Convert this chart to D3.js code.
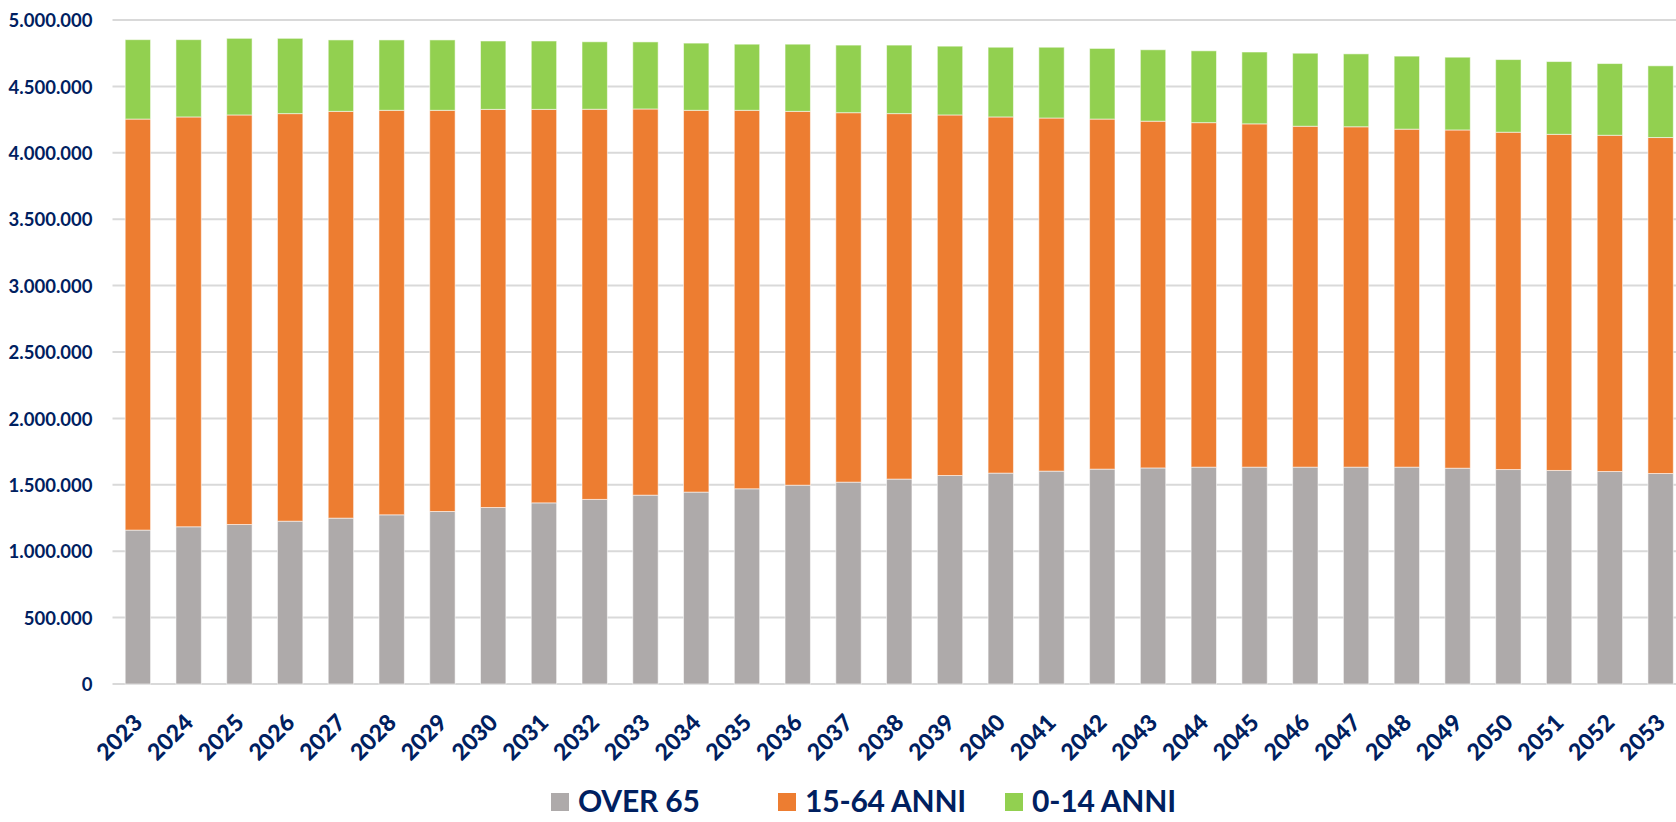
<!DOCTYPE html>
<html>
<head>
<meta charset="utf-8">
<script src="https://cdn.jsdelivr.net/npm/d3@7"></script>
<style>
  html, body { margin: 0; padding: 0; background: #fff; }
  svg { display: block; }
  text { font-family: Lato, 'Liberation Sans', sans-serif; font-weight: 700; fill: #002060; }
</style>
</head>
<body>
<div id="chart"></div>
<script>
// anni di proiezione
const years = [
  '2023', '2024', '2025', '2026', '2027', '2028', '2029', '2030', '2031', '2032',
  '2033', '2034', '2035', '2036', '2037', '2038', '2039', '2040', '2041', '2042',
  '2043', '2044', '2045', '2046', '2047', '2048', '2049', '2050', '2051', '2052', '2053',
];

const over65 = [
  1159000, 1184000, 1201000, 1226000, 1249000, 1274000, 1299000, 1329000, 1364000, 1390000,
  1422000, 1445000, 1470000, 1497000, 1520000, 1543000, 1570000, 1588000, 1603000, 1618000,
  1627000, 1633000, 1633000, 1633000, 1633000, 1633000, 1625000, 1615000, 1608000, 1600000, 1585000,
];

const anni15_64 = [
  3095000, 3086000, 3084000, 3069000, 3063000, 3046000, 3021000, 2998000, 2963000, 2938000,
  2908000, 2875000, 2850000, 2815000, 2782000, 2752000, 2715000, 2682000, 2659000, 2636000,
  2611000, 2594000, 2585000, 2567000, 2563000, 2545000, 2547000, 2540000, 2531000, 2532000, 2530000,
];

const anni0_14 = [
  598000, 582000, 577000, 567000, 538000, 530000, 530000, 515000, 515000, 508000,
  505000, 506000, 498000, 506000, 509000, 516000, 518000, 525000, 533000, 532000,
  538000, 541000, 541000, 550000, 549000, 550000, 548000, 547000, 548000, 540000, 540000,
];

const yTicks = [0, 500000, 1000000, 1500000, 2000000, 2500000, 3000000, 3500000, 4000000, 4500000, 5000000];

const seriesKeys = ['OVER 65', '15-64 ANNI', '0-14 ANNI'];
const seriesColors = ['#aeaaaa', '#ed7d31', '#92d050'];

const W = 1676;
const H = 822;
const margin = { top: 20, right: -10, bottom: 138, left: 112.5 };
const height = H - margin.top - margin.bottom;

const table = years.map((y, i) => ({
  year: y,
  'OVER 65': over65[i],
  '15-64 ANNI': anni15_64[i],
  '0-14 ANNI': anni0_14[i],
}));

const svg = d3.select('#chart').append('svg').attr('width', W).attr('height', H);

const x = d3.scaleBand()
  .domain(years)
  .range([margin.left, W - margin.right])
  .paddingInner(0.5)
  .paddingOuter(0.25);

const y = d3.scaleLinear()
  .domain([0, 5000000])
  .range([margin.top + height, margin.top]);

const fmt = (v) => d3.format(',')(v).replace(/,/g, '.');

// griglia
svg.append('g')
  .selectAll('line')
  .data(yTicks)
  .enter()
  .append('line')
  .attr('x1', margin.left)
  .attr('x2', W)
  .attr('y1', (d) => y(d))
  .attr('y2', (d) => y(d))
  .attr('stroke', '#d9d9d9')
  .attr('stroke-width', 2);

// asse y
const yAxis = svg.append('g')
  .attr('transform', `translate(${margin.left - 20},0)`)
  .call(d3.axisLeft(y).tickValues(yTicks).tickFormat(fmt).tickSize(0));
yAxis.select('.domain').remove();
yAxis.selectAll('text')
  .attr('x', 0)
  .attr('dy', '0.36em')
  .style('font-size', '18.5px')
  .style('font-family', 'Lato, sans-serif')
  .style('font-weight', 700)
  .attr('fill', '#002060');

// barre impilate
const stack = d3.stack().keys(seriesKeys)(table);

svg.append('g')
  .selectAll('g')
  .data(stack)
  .enter()
  .append('g')
  .attr('fill', (d, i) => seriesColors[i])
  .selectAll('rect')
  .data((d) => d)
  .enter()
  .append('rect')
  .attr('x', (d) => x(d.data.year))
  .attr('y', (d) => y(d[1]))
  .attr('width', x.bandwidth())
  .attr('height', (d) => y(d[0]) - y(d[1]))
  .attr('stroke', 'rgba(255,255,255,0.55)')
  .attr('stroke-width', 1);

// asse x
const xAxis = svg.append('g')
  .attr('transform', `translate(0,${margin.top + height})`)
  .call(d3.axisBottom(x).tickSize(0));
xAxis.select('.domain').remove();
xAxis.selectAll('text')
  .attr('transform', 'translate(6,40) rotate(-45)')
  .attr('y', 0)
  .attr('dy', 0)
  .style('text-anchor', 'end')
  .style('font-size', '23px')
  .style('font-family', 'Lato, sans-serif')
  .style('font-weight', 900)
  .attr('fill', '#002060');

// legenda
const legendSlot = 227;
const legend = svg.append('g').attr('transform', 'translate(551,812)');
const items = legend.selectAll('g')
  .data(seriesKeys)
  .enter()
  .append('g')
  .attr('transform', (d, i) => `translate(${i * legendSlot},0)`);

items.append('rect')
  .attr('width', 18)
  .attr('height', 18)
  .attr('y', -19)
  .attr('fill', (d, i) => seriesColors[i]);

items.append('text')
  .attr('x', 27)
  .attr('y', 0)
  .style('font-size', '30px')
  .style('letter-spacing', '-0.2px')
  .text((d) => d);
</script>
</body>
</html>
